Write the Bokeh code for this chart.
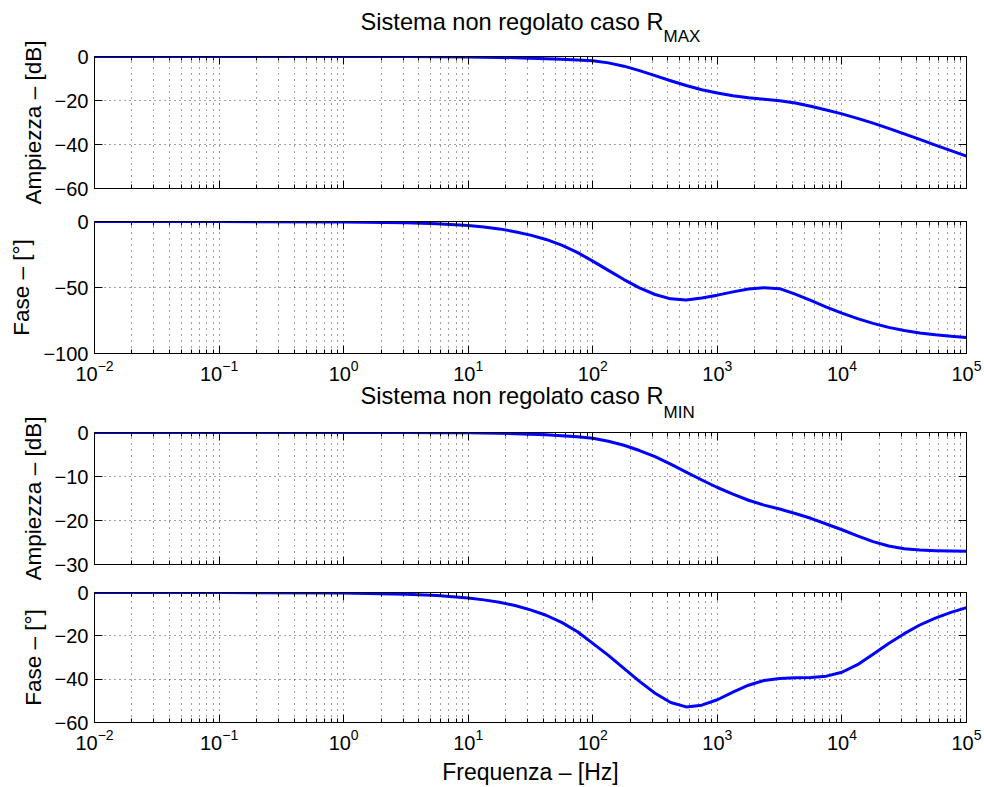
from bokeh.plotting import figure
from bokeh.layouts import column
from bokeh.models import (FixedTicker, LogAxis, LinearAxis, Label, LogTickFormatter,
                          CustomJSTickFormatter, Range1d)
from bokeh.embed import file_html
from bokeh.resources import INLINE

FONT = "Liberation Sans"

# ---------------- data ----------------
freq = [0.01, 0.1, 1.0, 3.162, 5.623, 10.0, 13.34, 17.78, 23.71, 31.62, 42.17, 56.23, 74.99,
        100.0, 133.4, 177.8, 237.1, 316.2, 421.7, 562.3, 749.9, 1000.0, 1334.0, 1778.0,
        2371.0, 3162.0, 4217.0, 5623.0, 7499.0, 10000.0, 13340.0, 17780.0, 23710.0,
        31620.0, 42170.0, 56230.0, 74990.0, 100000.0]

mag_rmax = [0, 0, 0, -0.02, -0.06, -0.2, -0.3, -0.42, -0.58, -0.78, -1.0, -1.25, -1.55,
            -1.9, -2.9, -4.4, -6.4, -8.7, -11.0, -13.2, -15.1, -16.6, -17.8, -18.7, -19.4,
            -20.1, -21.1, -22.6, -24.3, -26.1, -28.1, -30.3, -32.7, -35.2, -37.7, -40.3,
            -42.8, -45.3]

phase_rmax = [0, -0.03, -0.3, -0.9, -1.7, -3.0, -4.1, -5.6, -7.7, -10.3, -13.6, -17.9, -23.4,
              -30.0, -37.0, -44.0, -50.3, -55.3, -58.6, -59.4, -58.0, -55.8, -53.3, -51.2,
              -50.1, -50.9, -55.0, -59.8, -64.8, -69.4, -73.6, -77.2, -80.2, -82.6, -84.4,
              -85.8, -86.9, -87.8]

mag_rmin = [0, 0, 0, -0.01, -0.03, -0.08, -0.12, -0.18, -0.26, -0.37, -0.52, -0.72, -0.98,
            -1.3, -2.0, -2.9, -4.1, -5.5, -7.2, -9.0, -10.8, -12.5, -14.0, -15.4, -16.5,
            -17.4, -18.4, -19.5, -20.8, -22.1, -23.5, -24.8, -25.8, -26.4, -26.7, -26.85,
            -26.95, -27.0]

phase_rmin = [0, -0.02, -0.25, -0.8, -1.4, -2.5, -3.4, -4.5, -6.0, -8.0, -10.5, -13.8, -18.0,
              -23.5, -29.0, -35.0, -41.0, -46.5, -50.8, -52.8, -52.0, -49.5, -46.0, -42.8,
              -40.6, -39.7, -39.4, -39.2, -38.6, -36.8, -33.3, -28.5, -23.5, -19.0, -15.0,
              -11.8, -9.2, -7.0]

x_decades = [0.01, 0.1, 1, 10, 100, 1000, 10000, 100000]
yticks_mag_rmax = [-60, -40, -20, 0]
yticks_phase_rmax = [-100, -50, 0]
yticks_mag_rmin = [-30, -20, -10, 0]
yticks_phase_rmin = [-60, -40, -20, 0]

title_text = "Sistema non regolato caso R"
sub_rmax = "MAX"
sub_rmin = "MIN"
ylabel_mag = "Ampiezza \u2013 [dB]"
ylabel_phase = "Fase \u2013 [\u00b0]"
xlabel = "Frequenza \u2013 [Hz]"

minor_x = [m * d for d in x_decades[:-1] for m in range(2, 10)]
EMPTY = "return ''"


def minus(v):
    return ("\u2212" + str(abs(v))) if v < 0 else str(v)


def panel(vals, ylo, yticks, ylabel, height, top, bottom, show_xlabels, xlab=None):
    p = figure(width=984, height=height, x_axis_type="log",
               x_range=Range1d(0.01, 1e5), y_range=Range1d(ylo, 0),
               output_backend="svg", toolbar_location=None,
               min_border_left=94, min_border_right=18,
               min_border_top=top, min_border_bottom=bottom)
    p.background_fill_color = "white"
    p.border_fill_color = "white"
    p.outline_line_color = "black"
    p.outline_line_width = 1

    xt = FixedTicker(ticks=x_decades, minor_ticks=minor_x)
    yt = FixedTicker(ticks=yticks, minor_ticks=[])

    xa = p.xaxis[0]
    xa.ticker = xt
    ya = p.yaxis[0]
    ya.ticker = yt
    ya.major_label_overrides = {v: minus(v) for v in yticks}

    for ax in (xa, ya):
        ax.major_tick_in = 8
        ax.major_tick_out = 0
        ax.minor_tick_in = 4
        ax.minor_tick_out = 0
        ax.axis_line_color = "black"
        ax.major_tick_line_color = "black"
        ax.minor_tick_line_color = "black"
        ax.major_label_text_font = FONT
        ax.major_label_text_font_size = "20px"
        ax.major_label_text_color = "black"
        ax.major_label_standoff = 6
        ax.axis_label_text_font = FONT
        ax.axis_label_text_font_size = "22.5px"
        ax.axis_label_text_font_style = "normal"
        ax.axis_label_text_color = "black"
        ax.axis_label_standoff = 6
    ya.minor_tick_in = 0
    ya.axis_label = ylabel
    xa.axis_label_text_font_size = "23px"

    if show_xlabels:
        xa.formatter = LogTickFormatter()
        if xlab:
            xa.axis_label = xlab
    else:
        xa.formatter = CustomJSTickFormatter(code=EMPTY)
        xa.major_label_text_font_size = "0px"
        xa.major_label_standoff = 0

    # mirrored axes (box with inward ticks)
    top_ax = LogAxis(ticker=xt, formatter=CustomJSTickFormatter(code=EMPTY),
                     major_tick_in=8, major_tick_out=0, minor_tick_in=4, minor_tick_out=0,
                     major_label_text_font_size="0px", major_label_standoff=0,
                     axis_line_color="black")
    right_ax = LinearAxis(ticker=yt, formatter=CustomJSTickFormatter(code=EMPTY),
                          major_tick_in=8, major_tick_out=0, minor_tick_in=0, minor_tick_out=0,
                          major_label_text_font_size="0px", major_label_standoff=0,
                          axis_line_color="black")
    p.add_layout(top_ax, "above")
    p.add_layout(right_ax, "right")

    p.xgrid.ticker = xt
    p.ygrid.ticker = yt
    p.xgrid.grid_line_color = "black"
    p.xgrid.grid_line_alpha = 0.75
    p.xgrid.grid_line_dash = "1 5"
    p.xgrid.minor_grid_line_color = "black"
    p.xgrid.minor_grid_line_alpha = 0.75
    p.xgrid.minor_grid_line_dash = "1 5"
    p.ygrid.grid_line_color = "black"
    p.ygrid.grid_line_alpha = 0.75
    p.ygrid.grid_line_dash = "1 4"

    p.line(freq, vals, line_color="#0000FF", line_width=3, line_join="round")
    return p


def add_title(p, sub, y_main, y_sub):
    # labels placed in the "above" side panel so they are not clipped to the frame
    p.add_layout(Label(x=569, y=y_main, x_units="screen", y_units="screen", text=title_text,
                       text_align="right", text_baseline="alphabetic",
                       text_font=FONT, text_font_size="23.6px", text_color="black"), "above")
    p.add_layout(Label(x=569, y=y_sub, x_units="screen", y_units="screen", text=sub,
                       text_align="left", text_baseline="alphabetic",
                       text_font=FONT, text_font_size="17px", text_color="black"), "above")


p1 = panel(mag_rmax, -60, yticks_mag_rmax, ylabel_mag, 208, 56, 20, False)
p2 = panel(phase_rmax, -100, yticks_phase_rmax, ylabel_phase, 176, 13, 31, True)
p3 = panel(mag_rmin, -30, yticks_mag_rmin, ylabel_mag, 196, 48, 16, False)
p4 = panel(phase_rmin, -60, yticks_phase_rmin, ylabel_phase, 207, 12, 63, True, xlabel)

add_title(p1, sub_rmax, 35, -6)
add_title(p3, sub_rmin, 37, -6)

layout = column(p1, p2, p3, p4, spacing=0)
open("out.html", "w").write(file_html(layout, INLINE))
